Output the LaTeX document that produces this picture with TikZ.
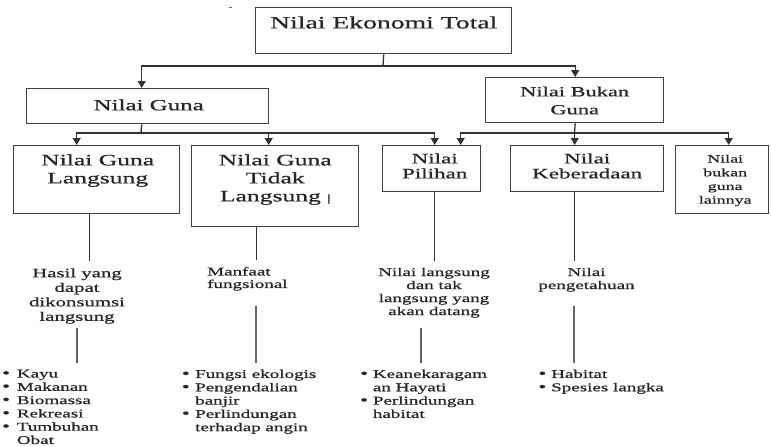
\documentclass[tikz,border=0pt]{standalone}
\usepackage{fontspec}
\setmainfont[FakeStretch=1.6,FakeBold=0.8]{Liberation Serif}
\usetikzlibrary{arrows.meta}
\newcommand\fs[2]{\fontsize{#1}{#2}\selectfont}
\newcommand\bi[1]{\makebox[#1][l]{{\fontsize{14}{14}\selectfont\textbullet}}}
\begin{document}
\begin{tikzpicture}[x=1pt,y=-1pt,
  box/.style={draw=black!75, line width=1.4pt, rectangle, inner sep=0pt, anchor=north west},
  bt/.style={inner sep=0pt, align=center, anchor=north, text=black!85},
  ln/.style={draw=black!80, line width=1.3pt},
  arr/.style={ln, -{Triangle[length=7pt,width=8pt]}},
  thk/.style={draw=black!60, line width=2.4pt},
  mid/.style={inner sep=0pt, align=center, anchor=north, text=black!85, font=\fs{11.9}{13}},
  lst/.style={inner sep=0pt, align=left, anchor=north west, text=black!85, font=\fs{11.9}{13.3}}]

\useasboundingbox (0,0) rectangle (771,447);

% small mark at top
\draw[black!60, line width=1pt] (228.5,7.5) -- (232,7.5);

% boxes
\node[box, minimum width=256pt, minimum height=46pt] (net) at (255,7) {};
\node[box, minimum width=242pt, minimum height=35pt] (guna) at (26,88) {};
\node[box, minimum width=178pt, minimum height=45pt] (bukan) at (485,77) {};
\node[box, minimum width=166pt, minimum height=68pt] (gl) at (13,145) {};
\node[box, minimum width=167pt, minimum height=81pt] (gtl) at (191,145) {};
\node[box, minimum width=98pt, minimum height=46pt] (pil) at (382,145) {};
\node[box, minimum width=153pt, minimum height=46pt] (keb) at (510,145) {};
\node[box, minimum width=93pt, minimum height=68pt] (lain) at (675,145) {};

% box texts
\node[bt, font=\fs{17.3}{18}] (netT) at ([yshift=-9.2pt]net.north) {Nilai Ekonomi Total};
\node[bt, font=\fs{15.6}{18}] (gunaT) at ([xshift=1pt,yshift=-11.3pt]guna.north) {Nilai Guna};
\node[bt, font=\fs{14}{18}] (bukanT) at ([yshift=-9.4pt]bukan.north) {Nilai Bukan\\Guna};
\node[bt, font=\fs{16}{18}] (glT) at ([xshift=1pt,yshift=-9.1pt]gl.north) {Nilai Guna\\Langsung};
\node[bt, font=\fs{16}{18}] (gtlT) at ([yshift=-9.1pt]gtl.north) {Nilai Guna\\Tidak\\Langsung {\fs{10}{10}|}};
\node[bt, font=\fs{14.4}{15}] (pilT) at ([xshift=3pt,yshift=-8.2pt]pil.north) {Nilai\\Pilihan};
\node[bt, font=\fs{14.4}{15}] (kebT) at ([yshift=-8.2pt]keb.north) {Nilai\\Keberadaan};
\node[bt, font=\fs{11.2}{13.7}] (lainT) at ([xshift=3pt,yshift=-9.6pt]lain.north) {Nilai\\bukan\\guna\\lainnya};

% connectors top level
\coordinate (j1) at (383,66);
\draw[ln] (net.south) -- (j1);
\draw[arr] (j1) -| ([xshift=-6pt]guna.north);
\draw[arr] (j1) -| ([xshift=0.5pt]bukan.north);

\coordinate (j2) at (141,133);
\draw[ln] ([xshift=-6pt]guna.south) -- (j2);
\draw[arr] (j2) -| ([xshift=-20pt]gl.north);
\draw[arr] (j2) -| ([xshift=-6.5pt]gtl.north);
\draw[arr] (j2) -| ([xshift=3pt]pil.north);

\coordinate (j3) at (574.5,133);
\draw[ln] ([xshift=0.5pt]bukan.south) -- (j3);
\draw[arr] (j3) -| ([xshift=29pt]pil.north);
\draw[arr] (j3) -| ([xshift=-12.5pt]keb.north);
\draw[arr] (j3) -| ([xshift=6.5pt]lain.north);

% middle texts
\node[mid, font=\fs{13}{14.5}] (hasil) at (77,268.1) {Hasil yang\\dapat\\dikonsumsi\\langsung};
\node[mid, align=left, anchor=north west, font=\fs{11.9}{12.5}] (mf) at (207,266.9) {Manfaat\\fungsional};
\node[mid] (nl) at (434,267.6) {Nilai langsung\\dan tak\\langsung yang\\akan datang};
\node[mid] (np) at (586.5,267.6) {Nilai\\pengetahuan};

% lines from boxes to middle texts
\draw[ln, shorten >=7pt] ([xshift=-7pt]gl.south) -- ([xshift=-7pt]gl.south |- hasil.north);
\draw[ln, shorten >=7pt] ([xshift=-18.5pt]gtl.south) -- ([xshift=-18.5pt]gtl.south |- mf.north);
\draw[ln, shorten >=7pt] ([xshift=3pt]pil.south) -- ([xshift=3pt]pil.south |- nl.north);
\draw[ln, shorten >=7pt] ([xshift=-12.5pt]keb.south) -- ([xshift=-12.5pt]keb.south |- np.north);

% bullet lists
\node[lst] (l1) at (2,369.5) {\bi{14.7pt}Kayu\\\bi{14.7pt}Makanan\\\bi{14.7pt}Biomassa\\\bi{14.7pt}Rekreasi\\\bi{14.7pt}Tumbuhan\\\hspace*{14.7pt}Obat};
\node[lst] (l2) at (181.7,369.5) {\bi{13.3pt}Fungsi ekologis\\\bi{13.3pt}Pengendalian\\\hspace*{13.3pt}banjir\\\bi{13.3pt}Perlindungan\\\hspace*{13.3pt}terhadap angin};
\node[lst] (l3) at (360,369.5) {\bi{12.7pt}Keanekaragam\\\hspace*{12.7pt}an Hayati\\\bi{12.7pt}Perlindungan\\\hspace*{12.7pt}habitat};
\node[lst] (l4) at (538.3,369.5) {\bi{12.7pt}Habitat\\\bi{12.7pt}Spesies langka};

% thick lines from middle texts to lists
\draw[thk, shorten <=4.6pt, shorten >=6.5pt] (hasil.south) -- (hasil.south |- l1.north);
\coordinate (x2) at (256,0);
\draw[thk, shorten <=15pt, shorten >=6.5pt] (x2 |- mf.south) -- (x2 |- l2.north);
\coordinate (x3) at (421,0);
\draw[thk, shorten <=10pt, shorten >=6.5pt] (x3 |- nl.south) -- (x3 |- l3.north);
\coordinate (x4) at (574,0);
\draw[thk, shorten <=13.7pt, shorten >=6.5pt] (x4 |- np.south) -- (x4 |- l4.north);
\end{tikzpicture}
\end{document}
